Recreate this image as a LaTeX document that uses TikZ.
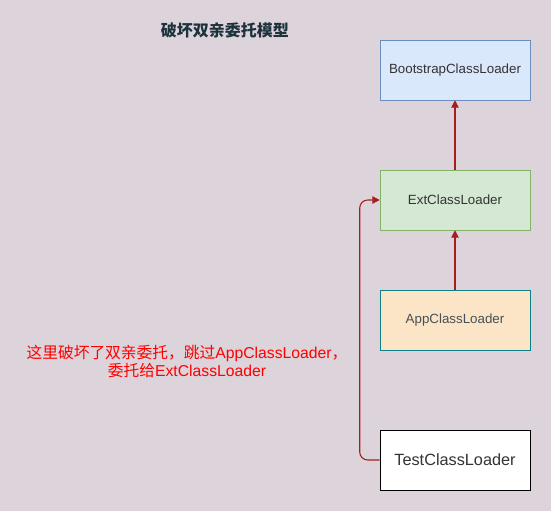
\documentclass[tikz,border=0pt]{standalone}
\usepackage{fontspec}
\setmainfont{Liberation Sans}
\newfontfamily\cjk{Noto Sans CJK SC}
\usetikzlibrary{arrows.meta}

\definecolor{bgmauve}{RGB}{221,211,218}
\definecolor{arrowred}{RGB}{165,30,30}
\definecolor{titlecol}{RGB}{30,50,62}

\begin{document}
\begin{tikzpicture}[x=0.75pt,y=0.75pt,yscale=-1,xscale=1,
  loader/.style={draw,minimum width=112.5pt,minimum height=45pt,inner sep=0pt,
    font=\fontsize{10pt}{12pt}\selectfont,text=black!80},
  delegate/.style={draw=arrowred,line width=0.8pt,-{Triangle[length=5.5pt,width=5.5pt]}}]
%background and size
\fill [bgmauve] (0,0) rectangle (551,511);
\useasboundingbox (0,0) rectangle (551,511);

% Title
\node (title) at (225,30) [text=titlecol,font=\cjk\bfseries\fontsize{12pt}{14pt}\selectfont] {破坏双亲委托模型};

% Loaders
\node (boot) at (455,70) [loader,draw={rgb,255:red,108;green,142;blue,191},fill={rgb,255:red,218;green,232;blue,252}] {BootstrapClassLoader};
\node (ext) at (455,200) [loader,draw={rgb,255:red,130;green,179;blue,102},fill={rgb,255:red,213;green,232;blue,212}] {ExtClassLoader};
\node (app) at (455,320) [loader,draw={rgb,255:red,14;green,128;blue,136},fill={rgb,255:red,252;green,229;blue,199},text={rgb,255:red,70;green,80;blue,85}] {AppClassLoader};
\node (test) at (455,460) [loader,draw=black,fill=white,font=\fontsize{12.2pt}{14pt}\selectfont] {TestClassLoader};

% Note
\node (note) at (187,361) [text=red,align=center,font=\fontsize{11.8pt}{13.5pt}\selectfont]
  {{\cjk 这里破坏了双亲委托，跳过}AppClassLoader{\cjk ，}\\{\cjk 委托给}ExtClassLoader};

% Arrows
\draw [delegate] (app) -- (ext);
\draw [delegate] (ext) -- (boot);
\draw [delegate,rounded corners=6pt] (test.west) -- ++(-20,0) |- (ext.west);

\end{tikzpicture}
\end{document}
